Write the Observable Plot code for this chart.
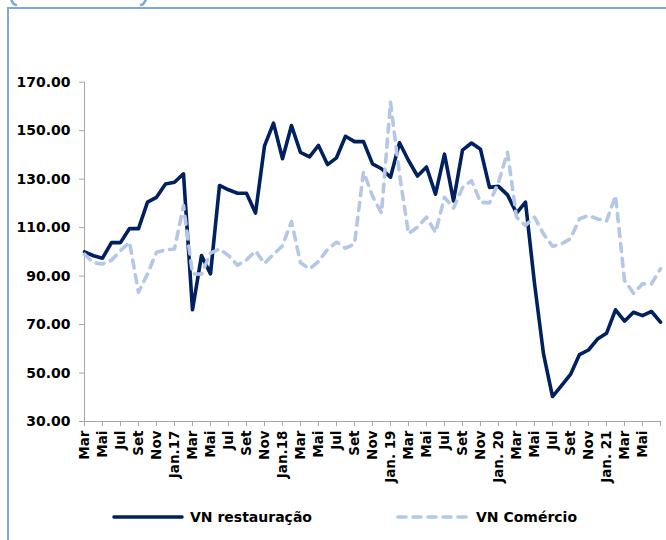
<!DOCTYPE html>
<html>
<head>
<meta charset="utf-8">
<script src="https://cdn.jsdelivr.net/npm/d3@7"></script>
<script src="https://cdn.jsdelivr.net/npm/@observablehq/plot@0.6"></script>
<style>
  html, body { margin: 0; padding: 0; background: #fff; overflow: hidden; }
  #wrap { position: relative; width: 666px; height: 540px; overflow: hidden; font-family: "DejaVu Sans", sans-serif; }
  #frame { position: absolute; left: 7px; top: 7px; right: -4px; bottom: -4px; border-left: 2px solid #7fa7d9; border-top: 2px solid #7fa7d9; }
  #corners { position: absolute; left: 0; top: 0; }
  #chart { position: absolute; left: 0; top: 0; }
  #legend { position: absolute; top: 507px; left: 0; width: 666px; height: 22px; font: bold 14px "DejaVu Sans", sans-serif; color: #000; }
  .item { position: absolute; top: 0; display: flex; align-items: center; height: 20px; }
  .item svg { margin-right: 6px; }
</style>
</head>
<body>
<div id="wrap">
  <div id="frame"></div>
  <svg id="corners" width="160" height="8">
    <path d="M11,-2 Q12,4 16,5" fill="none" stroke="#7fa7d9" stroke-width="2.5" stroke-linecap="round"/>
    <path d="M146,-2 Q145,4 141,5" fill="none" stroke="#7fa7d9" stroke-width="2.5" stroke-linecap="round"/>
  </svg>
  <div id="chart"></div>
  <div id="legend"></div>
</div>
<script>
// Monthly series, Mar 2016 .. Jul 2021
const restauracao = [
  100, 98.4, 97.4, 103.8, 103.8, 109.6, 109.6, 120.5, 122.5, 128,
  128.7, 132.2, 76.1, 98.5, 90.9, 127.4, 125.6, 124.2, 124.2, 116,
  143.7, 153.1, 138.4, 152.1, 141, 139.2, 143.9, 136, 138.8, 147.7,
  145.5, 145.5, 136.3, 134.3, 130.8, 145, 137.7, 131.3, 135, 123.8,
  140.3, 121, 142, 144.9, 142.3, 126.6, 127, 123.5, 116, 120.5,
  87, 57.9, 40.3, 44.8, 49.4, 57.6, 59.5, 64, 66.4, 76.1,
  71.4, 75.1, 73.7, 75.4, 71
];
const comercio = [
  99, 95.5, 95, 96.5, 100.5, 104, 83.3, 90.9, 99.8, 100.8,
  101.2, 119.1, 90.9, 90.8, 99.5, 101.2, 98.5, 94.5, 96.7, 100.4,
  95.2, 99, 102.5, 112.5, 95.5, 93, 96, 101, 104, 101.5,
  103.3, 133, 123, 116, 161.7, 132, 107.5, 110.2, 114.3, 108,
  122.5, 118, 126.5, 129.4, 120.5, 120.2, 128.7, 141.1, 114.3, 110.9,
  114.3, 107.4, 102.3, 103.3, 105.4, 113.6, 115, 113.6, 112.6, 123.2,
  88.2, 82.9, 86.8, 86.8, 93
];
const tickLabels = [
  "Mar", "Mai", "Jul", "Set", "Nov", "Jan.17",
  "Mar", "Mai", "Jul", "Set", "Nov", "Jan.18",
  "Mar", "Mai", "Jul", "Set", "Nov", "Jan. 19",
  "Mar", "Mai", "Jul", "Set", "Nov", "Jan. 20",
  "Mar", "Mai", "Jul", "Set", "Nov", "Jan. 21",
  "Mar", "Mai"
];
const yTicks = [30, 50, 70, 90, 110, 130, 150, 170];
const seriesNames = ["VN restauração", "VN Comércio"];

const xTicks = d3.range(0, restauracao.length, 2);
const font = "DejaVu Sans";

const chart = Plot.plot({
  width: 666,
  height: 500,
  marginLeft: 84,
  marginRight: 6,
  marginTop: 81.7,
  marginBottom: 79,
  style: { fontFamily: font, background: "transparent", overflow: "visible" },
  x: { type: "linear", domain: [0, restauracao.length - 1] },
  y: { domain: [30, 170] },
  marks: [
    Plot.axisY({
      ticks: yTicks, tickFormat: d => d.toFixed(2), tickSize: 5, tickPadding: 9,
      stroke: "#a6a6a6", fill: "#000", fontSize: 14, fontWeight: "bold", fontFamily: font, label: null
    }),
    Plot.axisX({
      ticks: xTicks, tickFormat: d => tickLabels[d / 2] ?? "", tickSize: 5, tickPadding: 4,
      tickRotate: -90, stroke: "#a6a6a6", fill: "#000", fontSize: 13.5, fontWeight: "bold", fontFamily: font, label: null
    }),
    Plot.ruleX([0], { y1: 30, y2: 170, stroke: "#a6a6a6" }),
    Plot.ruleY([30], { stroke: "#a6a6a6" }),
    Plot.line(restauracao, { x: (d, i) => i, y: d => d, stroke: "#002060", strokeWidth: 3.6, strokeLinejoin: "round" }),
    Plot.line(comercio, { x: (d, i) => i, y: d => d, stroke: "#b4c7e7", strokeWidth: 3.6, strokeDasharray: "8,7", strokeLinecap: "round", strokeLinejoin: "round" })
  ]
});
document.getElementById("chart").appendChild(chart);

const legend = document.getElementById("legend");
legend.innerHTML = `
  <div class="item" style="left:112px">
    <svg width="72" height="8"><line x1="2" y1="4" x2="70" y2="4" stroke="#002060" stroke-width="3.6" stroke-linecap="round"/></svg>
    <span>${seriesNames[0]}</span>
  </div>
  <div class="item" style="left:396px">
    <svg width="74" height="8"><line x1="2" y1="4" x2="70" y2="4" stroke="#b4c7e7" stroke-width="3.6" stroke-dasharray="8,7" stroke-linecap="round"/></svg>
    <span>${seriesNames[1]}</span>
  </div>`;
</script>
</body>
</html>
